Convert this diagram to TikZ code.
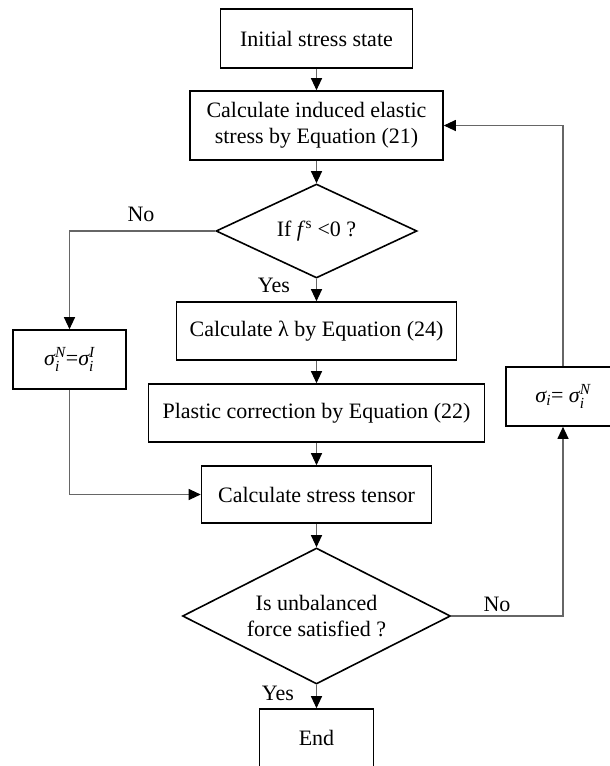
\documentclass[tikz,border=0pt]{standalone}
\usepackage{amsmath}
\usepackage{fontspec}
\setmainfont{Liberation Serif}
\usetikzlibrary{positioning, arrows.meta, shapes.geometric}

\begin{document}
\begin{tikzpicture}[x=1pt, y=-1pt, font=\fontsize{22}{26}\selectfont,
    box/.style={draw, line width=1.6pt, inner sep=0pt, align=center},
    cond/.style={draw, diamond, aspect=2, line width=1.6pt, inner sep=0pt, align=center},
    link/.style={draw=black!60, line width=1.1pt},
    flow/.style={link, -{Triangle[length=12pt, width=11pt, black]}}]
    \useasboundingbox (0,0) rectangle (610,766);
    \node[box, minimum width=192pt, minimum height=59pt] (init) at (316.5,38.5) {Initial stress state};
    \node[box, minimum width=253pt, minimum height=69pt] (elastic) at (316.5,125.5) {Calculate induced elastic\\stress by Equation (21)};
    \node[cond, minimum width=201pt, minimum height=94pt] (yield) at (316.5,231) {If \textit{f}\textsuperscript{s} <0 ?};
    \node[box, minimum width=280pt, minimum height=58pt] (lambda) at (316.5,331) {Calculate λ by Equation (24)};
    \node[box, minimum width=336pt, minimum height=58pt] (plastic) at (316.5,413) {Plastic correction by Equation (22)};
    \node[box, minimum width=230pt, minimum height=57pt] (tensor) at (316.5,494.5) {Calculate stress tensor};
    \node[cond, minimum width=268pt, minimum height=136pt] (balance) at (316.5,616) {Is unbalanced\\force satisfied ?};
    \node[box, minimum width=114pt, minimum height=58pt] (finish) at (316.5,738) {End};
    \node[box, minimum width=113pt, minimum height=59pt] (sigleft) at (69.5,359.5) {$\textit{σ}_{\textit{i}}^{\textit{N}}$=$\textit{σ}_{\textit{i}}^{\textit{I}}$};
    \node[box, minimum width=114pt, minimum height=59pt] (sigright) at (563,396.5) {$\textit{σ}_{\textit{i}}$= $\textit{σ}_{\textit{i}}^{\textit{N}}$};
    \node (noleft) at (141,214) {No};
    \node (yesmid) at (274,285) {Yes};
    \node (noright) at (497,604) {No};
    \node (yesend) at (278,693) {Yes};
    \draw[flow] (init) -- (elastic);
    \draw[flow] (elastic) -- (yield);
    \draw[flow] (yield) -- (lambda);
    \draw[flow] (lambda) -- (plastic);
    \draw[flow] (plastic) -- (tensor);
    \draw[flow] (tensor) -- (balance);
    \draw[flow] (balance) -- (finish);
    \draw[flow] (yield.west) -| (sigleft.north);
    \draw[flow] (sigleft.south) |- (tensor.west);
    \draw[flow] (balance.east) -| (sigright.south);
    \draw[flow] (sigright.north) |- (elastic.east);
\end{tikzpicture}
\end{document}
